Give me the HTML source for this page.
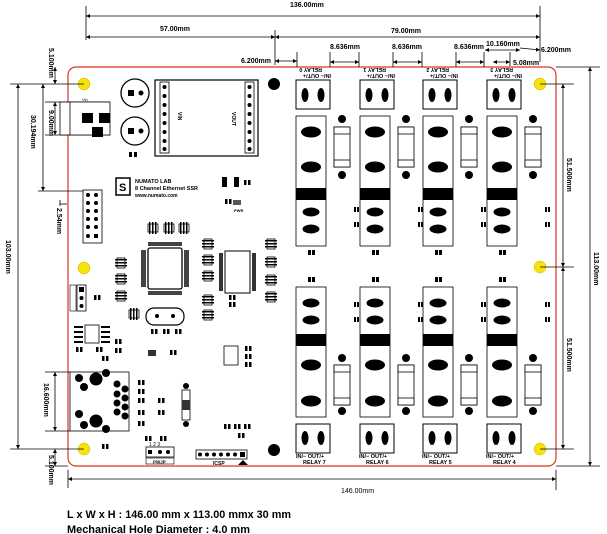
<!DOCTYPE html>
<html><head><meta charset="utf-8"><style>
html,body{margin:0;padding:0;background:#fff;}
svg{display:block;font-family:"Liberation Sans",sans-serif;}
</style></head><body>
<svg width="607" height="534" viewBox="0 0 607 534" xmlns="http://www.w3.org/2000/svg">
<defs>
<marker id="a" viewBox="0 0 10 10" refX="10" refY="5" markerWidth="5" markerHeight="5" orient="auto-start-reverse"><path d="M0,0 L10,5 L0,10 z" fill="#000"/></marker>
<g id="topcol">
 <rect x="0" y="80" width="34" height="29" fill="#fff" stroke="#000" stroke-width="1"/>
 <ellipse cx="9" cy="95" rx="3.5" ry="7" fill="#000"/><ellipse cx="25" cy="95" rx="3.5" ry="7" fill="#000"/>
 <rect x="0" y="116" width="30" height="130" fill="#fff" stroke="#000" stroke-width="0.8"/>
 <ellipse cx="15" cy="132" rx="10" ry="5.5"/><ellipse cx="15" cy="167" rx="10" ry="5.5"/>
 <rect x="0" y="188" width="30" height="12" fill="#000"/>
 <ellipse cx="15" cy="212" rx="8.5" ry="4.5"/><ellipse cx="15" cy="229" rx="8.5" ry="4.5"/>
 <circle cx="46" cy="119" r="4"/><circle cx="46" cy="175" r="4"/>
 <rect x="38" y="127" width="16" height="40" fill="#fff" stroke="#000" stroke-width="0.8"/>
 <rect x="38" y="127" width="16" height="7" fill="#fff" stroke="#000" stroke-width="0.8"/>
 <rect x="38" y="160" width="16" height="7" fill="#fff" stroke="#000" stroke-width="0.8"/>
 <rect x="58" y="207" width="2" height="5"/><rect x="61" y="207" width="2" height="5"/>
 <rect x="58" y="222" width="2" height="5"/><rect x="61" y="222" width="2" height="5"/>
 <rect x="12" y="250" width="3" height="5"/><rect x="16" y="250" width="3" height="5"/>
</g>
<g id="botcol">
 <rect x="12" y="277" width="3" height="5"/><rect x="16" y="277" width="3" height="5"/>
 <rect x="0" y="287" width="30" height="130" fill="#fff" stroke="#000" stroke-width="0.8"/>
 <ellipse cx="15" cy="303" rx="8.5" ry="4.5"/><ellipse cx="15" cy="320" rx="8.5" ry="4.5"/>
 <rect x="0" y="334" width="30" height="12" fill="#000"/>
 <ellipse cx="15" cy="365" rx="10" ry="5.5"/><ellipse cx="15" cy="401" rx="10" ry="5.5"/>
 <circle cx="46" cy="358" r="4"/><circle cx="46" cy="411" r="4"/>
 <rect x="38" y="365" width="16" height="40" fill="#fff" stroke="#000" stroke-width="0.8"/>
 <rect x="38" y="365" width="16" height="7" fill="#fff" stroke="#000" stroke-width="0.8"/>
 <rect x="38" y="398" width="16" height="7" fill="#fff" stroke="#000" stroke-width="0.8"/>
 <rect x="58" y="302" width="2" height="5"/><rect x="61" y="302" width="2" height="5"/>
 <rect x="58" y="317" width="2" height="5"/><rect x="61" y="317" width="2" height="5"/>
 <rect x="0" y="424" width="34" height="29" fill="#fff" stroke="#000" stroke-width="1"/>
 <ellipse cx="9" cy="438" rx="3.5" ry="7" fill="#000"/><ellipse cx="25" cy="438" rx="3.5" ry="7" fill="#000"/>
</g>
<g id="res"><rect x="0" y="0" width="10" height="8" fill="#fff" stroke="#000" stroke-width="0.8"/><rect x="1" y="-2" width="1.5" height="12"/><rect x="4" y="-2" width="1.5" height="12"/><rect x="7" y="-2" width="1.5" height="12"/></g>
<g id="resv"><rect x="0" y="0" width="8" height="10" fill="#fff" stroke="#000" stroke-width="0.8"/><rect x="-2" y="1" width="12" height="1.5"/><rect x="-2" y="4" width="12" height="1.5"/><rect x="-2" y="7" width="12" height="1.5"/></g>
<g id="pp"><rect x="0" y="0" width="2.5" height="5"/><rect x="4" y="0" width="2.5" height="5"/></g>
</defs>

<rect x="68" y="67" width="488" height="399" rx="8" fill="none" stroke="#d32" stroke-width="1.2"/>

<g fill="#f5e30a" stroke="#c9b800" stroke-width="0.5">
<circle cx="84" cy="84" r="6"/><circle cx="84" cy="268" r="6"/><circle cx="84" cy="449" r="6"/>
<circle cx="540" cy="84" r="6"/><circle cx="540" cy="267" r="6"/><circle cx="540" cy="449" r="6"/>
</g>
<circle cx="274" cy="84" r="6"/><circle cx="274" cy="450" r="6"/>

<g stroke="#000" stroke-width="0.8" fill="none">
<line x1="86" y1="6" x2="86" y2="40"/><line x1="540" y1="6" x2="540" y2="62"/><line x1="275" y1="30" x2="275" y2="65"/>
<line x1="86" y1="16" x2="540" y2="16" marker-start="url(#a)" marker-end="url(#a)"/>
<line x1="86" y1="37" x2="275" y2="37" marker-start="url(#a)" marker-end="url(#a)"/>
<line x1="275" y1="37" x2="540" y2="37" marker-start="url(#a)" marker-end="url(#a)"/>
<line x1="297" y1="52" x2="297" y2="67"/>
<line x1="275" y1="61" x2="297" y2="61" marker-start="url(#a)" marker-end="url(#a)"/>
<line x1="330" y1="52" x2="330" y2="67"/><line x1="359" y1="52" x2="359" y2="67"/>
<line x1="393" y1="52" x2="393" y2="67"/><line x1="422" y1="52" x2="422" y2="67"/>
<line x1="456" y1="52" x2="456" y2="67"/><line x1="484" y1="52" x2="484" y2="67"/>
<line x1="330" y1="62" x2="359" y2="62" marker-start="url(#a)" marker-end="url(#a)"/>
<line x1="393" y1="62" x2="422" y2="62" marker-start="url(#a)" marker-end="url(#a)"/>
<line x1="456" y1="62" x2="484" y2="62" marker-start="url(#a)" marker-end="url(#a)"/>
<line x1="485" y1="50" x2="520" y2="50" marker-start="url(#a)" marker-end="url(#a)"/>
<line x1="520" y1="48" x2="540" y2="50" marker-end="url(#a)"/>
<line x1="493" y1="62" x2="510" y2="62" marker-start="url(#a)" marker-end="url(#a)"/>
<line x1="510" y1="52" x2="510" y2="66"/>
<line x1="556" y1="67" x2="600" y2="67"/><line x1="556" y1="466" x2="600" y2="466"/>
<line x1="590" y1="67" x2="590" y2="466" marker-start="url(#a)" marker-end="url(#a)"/>
<line x1="540" y1="84" x2="574" y2="84"/><line x1="540" y1="267" x2="574" y2="267"/><line x1="540" y1="449" x2="574" y2="449"/>
<line x1="563" y1="84" x2="563" y2="267" marker-start="url(#a)" marker-end="url(#a)"/>
<line x1="563" y1="267" x2="563" y2="449" marker-start="url(#a)" marker-end="url(#a)"/>
<line x1="68" y1="470" x2="68" y2="488"/><line x1="556" y1="470" x2="556" y2="490"/>
<line x1="68" y1="479" x2="556" y2="479" marker-start="url(#a)" marker-end="url(#a)"/>
<line x1="10" y1="84" x2="84" y2="84"/><line x1="10" y1="449" x2="84" y2="449"/>
<line x1="18" y1="84" x2="18" y2="449" marker-start="url(#a)" marker-end="url(#a)"/>
<line x1="38" y1="191" x2="84" y2="191"/>
<line x1="43" y1="84" x2="43" y2="191" marker-start="url(#a)" marker-end="url(#a)"/>
<line x1="45" y1="102" x2="110" y2="102"/><line x1="45" y1="135" x2="110" y2="135"/>
<line x1="55" y1="102" x2="55" y2="135" marker-start="url(#a)" marker-end="url(#a)"/>
<line x1="55" y1="67" x2="55" y2="84" marker-start="url(#a)" marker-end="url(#a)"/>
<line x1="45" y1="372" x2="70" y2="372"/><line x1="45" y1="431" x2="70" y2="431"/>
<line x1="55" y1="372" x2="55" y2="431" marker-start="url(#a)" marker-end="url(#a)"/>
<line x1="55" y1="449" x2="55" y2="466" marker-start="url(#a)" marker-end="url(#a)"/>
<line x1="45" y1="466" x2="68" y2="466"/>
<line x1="60" y1="200" x2="60" y2="206"/><line x1="60" y1="204" x2="67" y2="204"/>
</g>
<g font-size="7" font-weight="bold" fill="#000">
<text x="290" y="7">136.00mm</text>
<text x="160" y="31">57.00mm</text>
<text x="391" y="33">79.00mm</text>
<text x="241" y="63">6.200mm</text>
<text x="330" y="49">8.636mm</text>
<text x="392" y="49">8.636mm</text>
<text x="454" y="49">8.636mm</text>
<text x="486" y="46">10.160mm</text>
<text x="541" y="52">6.200mm</text>
<text x="513" y="65">5.08mm</text>
<text x="341" y="493" font-weight="normal">146.00mm</text>
<text transform="translate(594,252) rotate(90)">113.00mm</text>
<text transform="translate(567,158) rotate(90)">51.500mm</text>
<text transform="translate(567,338) rotate(90)">51.500mm</text>
<text transform="translate(6,240) rotate(90)">103.00mm</text>
<text transform="translate(31,115) rotate(90)">30.194mm</text>
<text transform="translate(49,110) rotate(90)">9.00mm</text>
<text transform="translate(49,48) rotate(90)">5.100mm</text>
<text transform="translate(44,383) rotate(90)">16.600mm</text>
<text transform="translate(49,455) rotate(90)">5.100mm</text>
<text transform="translate(57,208) rotate(90)">2.54mm</text>
</g>

<use href="#topcol" x="296"/><use href="#topcol" x="360"/><use href="#topcol" x="423"/><use href="#topcol" x="487"/>
<use href="#botcol" x="296"/><use href="#botcol" x="360"/><use href="#botcol" x="423"/><use href="#botcol" x="487"/>
<g font-size="5.5" font-weight="bold">
<text transform="translate(331,74) rotate(180)">IN/−  OUT/+</text><text transform="translate(322,68) rotate(180)">RELAY 0</text>
<text transform="translate(395,74) rotate(180)">IN/−  OUT/+</text><text transform="translate(386,68) rotate(180)">RELAY 1</text>
<text transform="translate(458,74) rotate(180)">IN/−  OUT/+</text><text transform="translate(449,68) rotate(180)">RELAY 2</text>
<text transform="translate(522,74) rotate(180)">IN/−  OUT/+</text><text transform="translate(513,68) rotate(180)">RELAY 3</text>
<text x="296" y="458">IN/−  OUT/+</text><text x="303" y="464">RELAY 7</text>
<text x="359" y="458">IN/−  OUT/+</text><text x="366" y="464">RELAY 6</text>
<text x="422" y="458">IN/−  OUT/+</text><text x="429" y="464">RELAY 5</text>
<text x="486" y="458">IN/−  OUT/+</text><text x="493" y="464">RELAY 4</text>
</g>

<rect x="60" y="102" width="50" height="33" fill="#fff" stroke="#000" stroke-width="0.8"/>
<line x1="70" y1="102" x2="70" y2="135" stroke="#000" stroke-width="0.8"/>
<rect x="82" y="113" width="11" height="10"/><rect x="99" y="113" width="11" height="10"/><rect x="92" y="127" width="11" height="10"/>
<text x="82" y="101" font-size="4">Vin</text>
<circle cx="135" cy="93" r="14" fill="#fff" stroke="#000" stroke-width="1.3"/><rect x="128" y="90" width="6" height="6"/><circle cx="141" cy="93" r="2.5"/>
<circle cx="135" cy="131" r="14" fill="#fff" stroke="#000" stroke-width="1.3"/><rect x="128" y="128" width="6" height="6"/><circle cx="141" cy="131" r="2.5"/>
<rect x="129" y="152" width="3" height="5"/><rect x="134" y="152" width="3" height="5"/>
<rect x="155" y="80" width="103" height="76" fill="#fff" stroke="#000" stroke-width="1.2"/>
<rect x="160" y="82" width="9" height="71" fill="#fff" stroke="#000" stroke-width="0.8"/>
<rect x="245" y="82" width="9" height="71" fill="#fff" stroke="#000" stroke-width="0.8"/>
<g fill="#000"><circle cx="164.5" cy="87" r="2"/><circle cx="164.5" cy="96" r="2"/><circle cx="164.5" cy="105" r="2"/><circle cx="164.5" cy="114" r="2"/><circle cx="164.5" cy="123" r="2"/><circle cx="164.5" cy="132" r="2"/><circle cx="164.5" cy="141" r="2"/><circle cx="164.5" cy="149" r="2"/>
<circle cx="249.5" cy="87" r="2"/><circle cx="249.5" cy="96" r="2"/><circle cx="249.5" cy="105" r="2"/><circle cx="249.5" cy="114" r="2"/><circle cx="249.5" cy="123" r="2"/><circle cx="249.5" cy="132" r="2"/><circle cx="249.5" cy="141" r="2"/><circle cx="249.5" cy="149" r="2"/></g>
<text transform="translate(178,112) rotate(90)" font-size="5" font-weight="bold">VIN</text>
<text transform="translate(232,112) rotate(90)" font-size="5" font-weight="bold">VOUT</text>

<rect x="116" y="178" width="14" height="17" fill="#fff" stroke="#000" stroke-width="1.5"/>
<text x="119" y="191" font-size="11" font-weight="bold">S</text>
<text x="135" y="183" font-size="5.5" font-weight="bold">NUMATO LAB</text>
<text x="135" y="190" font-size="5.5" font-weight="bold">8 Channel Ethernet SSR</text>
<text x="135" y="197" font-size="5" font-weight="bold">www.numato.com</text>
<rect x="222" y="177" width="5" height="10"/><rect x="234" y="177" width="5" height="10"/><use href="#pp" x="244" y="180"/><use href="#pp" x="225" y="199"/><rect x="233" y="200" width="8" height="5" fill="#555"/>
<text x="234" y="212" font-size="4" font-weight="bold">PWR</text>

<rect x="83" y="190" width="19" height="53" fill="#fff" stroke="#000" stroke-width="0.8"/>
<g fill="#000"><circle cx="88" cy="195" r="2"/><circle cx="96" cy="195" r="2"/><circle cx="88" cy="203" r="2"/><circle cx="96" cy="203" r="2"/><circle cx="88" cy="211" r="2"/><circle cx="96" cy="211" r="2"/><circle cx="88" cy="219" r="2"/><circle cx="96" cy="219" r="2"/><circle cx="88" cy="227" r="2"/><circle cx="96" cy="227" r="2"/><circle cx="88" cy="236" r="2"/><rect x="94" y="234" width="4" height="4"/></g>

<use href="#res" x="148" y="224"/><use href="#res" x="164" y="224"/><use href="#res" x="179" y="224"/>
<use href="#resv" x="204" y="239"/><use href="#resv" x="204" y="255"/><use href="#resv" x="204" y="271"/><use href="#resv" x="204" y="295"/><use href="#resv" x="204" y="310"/>
<use href="#resv" x="267" y="239"/><use href="#resv" x="267" y="257"/><use href="#resv" x="267" y="275"/><use href="#resv" x="267" y="292"/>
<use href="#resv" x="117" y="258"/><use href="#resv" x="117" y="274"/><use href="#resv" x="117" y="291"/>
<use href="#res" x="129" y="310"/>
<rect x="148" y="248" width="34" height="41" rx="2" fill="#fff" stroke="#000" stroke-width="1.3"/>
<g fill="#444"><rect x="148" y="242" width="34" height="4"/><rect x="148" y="291" width="34" height="4"/><rect x="141" y="250" width="5" height="37"/><rect x="184" y="250" width="5" height="37"/></g>
<rect x="225" y="251" width="25" height="42" fill="#fff" stroke="#000" stroke-width="1"/>
<g fill="#333"><rect x="219" y="253" width="4" height="38"/><rect x="252" y="253" width="4" height="38"/></g>
<use href="#pp" x="229" y="295"/><use href="#pp" x="229" y="302"/>
<rect x="146" y="308" width="38" height="17" rx="8" fill="#fff" stroke="#000" stroke-width="1.2"/><circle cx="157" cy="316" r="2"/><circle cx="173" cy="316" r="2"/>
<use href="#pp" x="151" y="329"/><use href="#pp" x="163" y="329"/><use href="#pp" x="175" y="329"/>
<rect x="148" y="350" width="8" height="6" fill="#333"/><use href="#pp" x="170" y="350"/>
<rect x="77" y="285" width="9" height="26" fill="#fff" stroke="#000" stroke-width="0.8"/><rect x="79" y="287" width="5" height="5"/><circle cx="81.5" cy="298" r="2"/><circle cx="81.5" cy="306" r="2"/>
<rect x="70" y="285" width="6" height="26" fill="#fff" stroke="#000" stroke-width="0.6"/>
<use href="#pp" x="94" y="295"/>
<rect x="85" y="325" width="14" height="18" fill="#fff" stroke="#000" stroke-width="0.8"/>
<g fill="#000"><rect x="74" y="326" width="9" height="2"/><rect x="74" y="331" width="9" height="2"/><rect x="74" y="336" width="9" height="2"/><rect x="74" y="341" width="9" height="2"/><rect x="101" y="326" width="9" height="2"/><rect x="101" y="331" width="9" height="2"/><rect x="101" y="336" width="9" height="2"/><rect x="101" y="341" width="9" height="2"/></g>
<use href="#pp" x="76" y="347"/><use href="#pp" x="96" y="347"/><use href="#pp" x="115" y="339"/><use href="#pp" x="115" y="348"/><use href="#pp" x="102" y="356"/>
<rect x="224" y="346" width="14" height="19" fill="#fff" stroke="#000" stroke-width="0.8"/>
<use href="#pp" x="245" y="346"/><use href="#pp" x="245" y="354"/><use href="#pp" x="245" y="362"/>
<rect x="70" y="372" width="59" height="59" fill="#fff" stroke="#000" stroke-width="0.8"/>
<g fill="#000"><circle cx="79" cy="378" r="4"/><circle cx="96" cy="379" r="6.5"/><circle cx="106" cy="373" r="4"/><circle cx="84" cy="387" r="4"/><circle cx="79" cy="414" r="4"/><circle cx="84" cy="425" r="4"/><circle cx="96" cy="421" r="6.5"/><circle cx="106" cy="429" r="4"/>
<circle cx="117" cy="384" r="3.5"/><circle cx="125" cy="389" r="3.5"/><circle cx="117" cy="394" r="3.5"/><circle cx="125" cy="398" r="3.5"/><circle cx="117" cy="403" r="3.5"/><circle cx="125" cy="407" r="3.5"/><circle cx="117" cy="412" r="3.5"/><circle cx="125" cy="416" r="3.5"/></g>
<use href="#pp" x="138" y="380"/><use href="#pp" x="138" y="389"/><use href="#pp" x="138" y="398"/><use href="#pp" x="158" y="398"/><use href="#pp" x="138" y="410"/><use href="#pp" x="158" y="410"/><use href="#pp" x="138" y="421"/>
<use href="#pp" x="102" y="444"/><use href="#pp" x="145" y="436"/><use href="#pp" x="160" y="436"/>
<circle cx="186" cy="386" r="3"/><circle cx="186" cy="424" r="3"/><rect x="182" y="390" width="8" height="30" fill="#fff" stroke="#000" stroke-width="0.8"/><rect x="182" y="400" width="8" height="10" fill="#333"/>
<use href="#pp" x="224" y="424"/><use href="#pp" x="234" y="424"/><use href="#pp" x="244" y="424"/><use href="#pp" x="238" y="433"/>
<rect x="146" y="447" width="28" height="10" fill="#fff" stroke="#000" stroke-width="0.8"/><rect x="148" y="450" width="4" height="4"/><circle cx="160" cy="452" r="2"/><circle cx="168" cy="452" r="2"/>
<text x="149" y="446" font-size="5">1 2 3</text>
<rect x="146" y="458" width="28" height="6" fill="#fff" stroke="#000" stroke-width="0.6"/><text x="153" y="463.5" font-size="4.5" font-weight="bold">PWJP</text>
<rect x="196" y="450" width="51" height="9" fill="#fff" stroke="#000" stroke-width="0.8"/>
<g fill="#000"><circle cx="200" cy="454.5" r="2"/><circle cx="207" cy="454.5" r="2"/><circle cx="214" cy="454.5" r="2"/><circle cx="221" cy="454.5" r="2"/><circle cx="228" cy="454.5" r="2"/><circle cx="235" cy="454.5" r="2"/><rect x="240" y="452" width="5" height="5"/></g>
<text x="213" y="465" font-size="5" font-weight="bold">ICSP</text>
<path d="M238,465 L243,460 L248,465 z"/>

<text x="67" y="518" font-size="11" font-weight="bold" textLength="224" lengthAdjust="spacingAndGlyphs">L x W x H : 146.00 mm x 113.00 mmx 30 mm</text>
<text x="67" y="533" font-size="11" font-weight="bold" textLength="183" lengthAdjust="spacingAndGlyphs">Mechanical Hole Diameter : 4.0 mm</text>
</svg>
</body></html>
